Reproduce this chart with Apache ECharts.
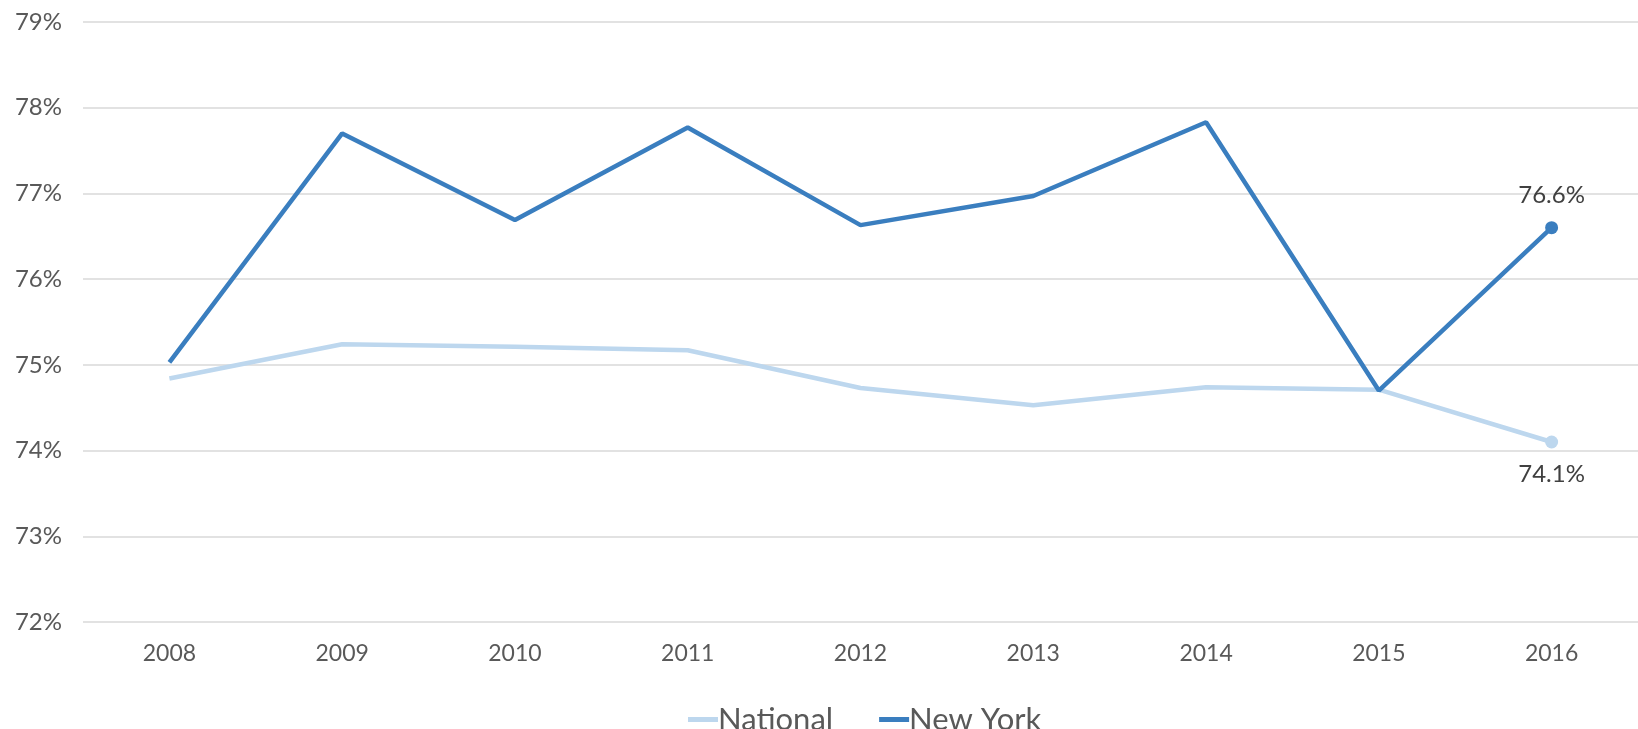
<!DOCTYPE html>
<html>
<head>
<meta charset="utf-8">
<script src="https://cdn.jsdelivr.net/npm/echarts@6/dist/echarts.min.js"></script>
<style>html,body{margin:0;padding:0;background:#fff;}#c{width:1638px;height:729px;}</style>
</head>
<body>
<div id="c"></div>
<script>
const years = ['2008','2009','2010','2011','2012','2013','2014','2015','2016'];
const national = [74.84, 75.24, 75.21, 75.17, 74.73, 74.53, 74.74, 74.71, 74.1];
const newYork = [75.03, 77.70, 76.69, 77.77, 76.63, 76.97, 77.83, 74.70, 76.6];
const yTicks = [72, 73, 74, 75, 76, 77, 78, 79];

const FONT = 'Lato';
function build(vals, pos) {
  const last = vals.length - 1;
  return vals.map((v, i) => i === last ? {
    value: v,
    label: { show: true, position: pos, distance: 14, formatter: p => p.value.toFixed(1) + '%', fontSize: 24, color: '#404040', fontFamily: FONT }
  } : v);
}
const chart = echarts.init(document.getElementById('c'));
chart.setOption({
  animation: false,
  textStyle: { fontFamily: FONT },
  grid: { left: 83, right: 0, top: 22, bottom: 107, containLabel: false },
  legend: {
    left: 683, top: 699,
    itemWidth: 30, itemHeight: 5, itemGap: 46,
    icon: 'rect',
    textStyle: { fontSize: 31, color: '#595959', fontFamily: FONT, padding: [0, 0, 0, -5] },
    data: ['National', 'New York']
  },
  xAxis: {
    type: 'category', data: years, boundaryGap: true,
    axisLine: { show: false }, axisTick: { show: false },
    axisLabel: { fontSize: 23, color: '#595959', margin: 20, fontFamily: FONT }
  },
  yAxis: {
    type: 'value', min: yTicks[0], max: yTicks[yTicks.length - 1], interval: 1,
    axisLine: { show: false }, axisTick: { show: false },
    splitLine: { lineStyle: { color: '#d9d9d9', width: 1.5 } },
    axisLabel: { fontSize: 24, color: '#595959', margin: 21, formatter: v => v + '%', fontFamily: FONT }
  },
  series: [
    {
      name: 'National', type: 'line', data: build(national, 'bottom'),
      symbol: 'circle', symbolSize: (v, p) => p.dataIndex === national.length - 1 ? 13 : 0,
      showAllSymbol: true,
      lineStyle: { color: '#bdd7ee', width: 4.5 }, itemStyle: { color: '#bdd7ee' }
    },
    {
      name: 'New York', type: 'line', data: build(newYork, 'top'),
      symbol: 'circle', symbolSize: (v, p) => p.dataIndex === newYork.length - 1 ? 13 : 0,
      showAllSymbol: true,
      lineStyle: { color: '#3a7ebf', width: 4.5 }, itemStyle: { color: '#3a7ebf' }
    }
  ]
});
</script>
</body>
</html>
